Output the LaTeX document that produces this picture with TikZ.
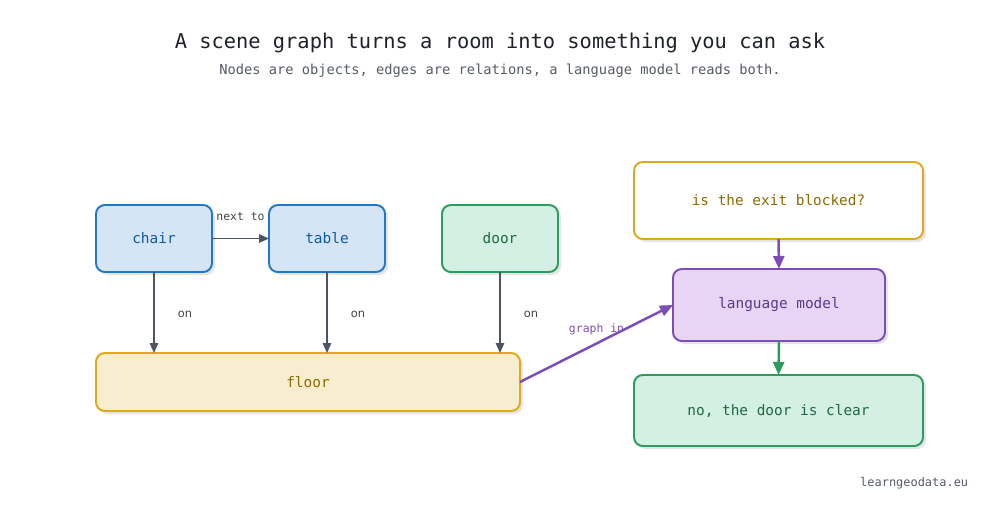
\documentclass[tikz,border=0pt]{standalone}
\usepackage{fontspec}
\setmainfont{DejaVu Sans}
\setsansfont{DejaVu Sans}
\setmonofont{DejaVu Sans Mono}
\usetikzlibrary{arrows.meta,shadows}
\definecolor{sgInk}{HTML}{1F2328}
\definecolor{sgGrey}{HTML}{4B5563}
\definecolor{sgSub}{HTML}{555B63}
\definecolor{sgBlue}{HTML}{1F78C8}
\definecolor{sgBlueFill}{HTML}{D5E5F5}
\definecolor{sgBlueText}{HTML}{0F5A9C}
\definecolor{sgGreen}{HTML}{2E9B5E}
\definecolor{sgGreenFill}{HTML}{D4EFE3}
\definecolor{sgGreenText}{HTML}{1B6B3E}
\definecolor{sgGold}{HTML}{E0A81B}
\definecolor{sgGoldFill}{HTML}{F8EECF}
\definecolor{sgGoldText}{HTML}{8C6A00}
\definecolor{sgPurple}{HTML}{7B4DB5}
\definecolor{sgPurpleFill}{HTML}{E8D5F5}
\definecolor{sgPurpleText}{HTML}{5A3A8A}

\begin{document}
\begin{tikzpicture}[
  x=1cm,y=1cm,
  font=\ttfamily\fontsize{8.2}{10}\selectfont,
  every node/.style={align=center,outer sep=0pt},
  obj/.style={rounded corners=5pt,line width=1.1pt,inner sep=3pt,
    general shadow={fill=black!10,shadow xshift=0.06cm,shadow yshift=-0.06cm}},
  bluebox/.style={obj,draw=sgBlue,fill=sgBlueFill,text=sgBlueText},
  greenbox/.style={obj,draw=sgGreen,fill=sgGreenFill,text=sgGreenText},
  goldbox/.style={obj,draw=sgGold,fill=sgGoldFill,text=sgGoldText},
  purplebox/.style={obj,draw=sgPurple,fill=sgPurpleFill,text=sgPurpleText},
  rel/.style={-{Triangle[length=2mm,width=1.7mm]},line width=0.85pt,draw=sgGrey},
  flow/.style={-{Triangle[length=2.6mm,width=2.2mm]},line width=1.4pt},
  lab/.style={font=\sffamily\fontsize{6.5}{8}\selectfont,text=sgInk!85},
  tlab/.style={font=\ttfamily\fontsize{6.5}{8}\selectfont,text=sgInk!85}
]
\path[use as bounding box,fill=white] (0,0) rectangle (20,10.32);
\node[font=\ttfamily\fontsize{11.6}{14}\selectfont,text=sgInk] (title) at (10,9.46)
  {A scene graph turns a room into something you can ask};
\node[font=\ttfamily\fontsize{7.8}{9}\selectfont,text=sgSub] (sub) at (10,8.90)
  {Nodes are objects, edges are relations, a language model reads both.};
% objects
\node[bluebox,minimum width=2.32cm,minimum height=1.34cm] (chair) at (3.08,5.55) {chair};
\node[bluebox,minimum width=2.32cm,minimum height=1.34cm] (table) at (6.54,5.55) {table};
\node[greenbox,minimum width=2.32cm,minimum height=1.34cm] (door) at (10.00,5.55) {door};
\node[goldbox,minimum width=8.48cm,minimum height=1.16cm] (floor) at (6.16,2.68) {floor};
% query side
\node[obj,draw=sgGold,fill=white,text=sgGoldText,minimum width=5.78cm,minimum height=1.54cm] (ask) at (15.57,6.31)
  {is the exit blocked?};
\node[purplebox,minimum width=4.24cm,minimum height=1.44cm] (llm) at (15.58,4.22) {language model};
\node[greenbox,minimum width=5.78cm,minimum height=1.42cm] (answer) at (15.57,2.11)
  {no, the door is clear};
% relations
\draw[rel] (chair.east) -- node[tlab,above=0.24cm] {next to} (table.west);
\draw[rel] (chair.south) -- node[lab,pos=0.52,right=0.36cm] {on} (chair.south |- floor.north);
\draw[rel] (table.south) -- node[lab,pos=0.52,right=0.36cm] {on} (table.south |- floor.north);
\draw[rel] (door.south) -- node[lab,pos=0.52,right=0.36cm] {on} (door.south |- floor.north);
% into the model
\draw[flow,draw=sgPurple] (floor.east) -- node[tlab,text=sgPurple,pos=0.5,above=0.06cm] {graph in} (llm.west);
\draw[flow,draw=sgPurple] (ask.south) -- (llm.north);
\draw[flow,draw=sgGreen] (llm.south) -- (answer.north);
\node[tlab,font=\ttfamily\fontsize{6.8}{8}\selectfont,text=sgSub,anchor=east] (site) at (19.48,0.66) {learngeodata.eu};
\end{tikzpicture}
\end{document}
